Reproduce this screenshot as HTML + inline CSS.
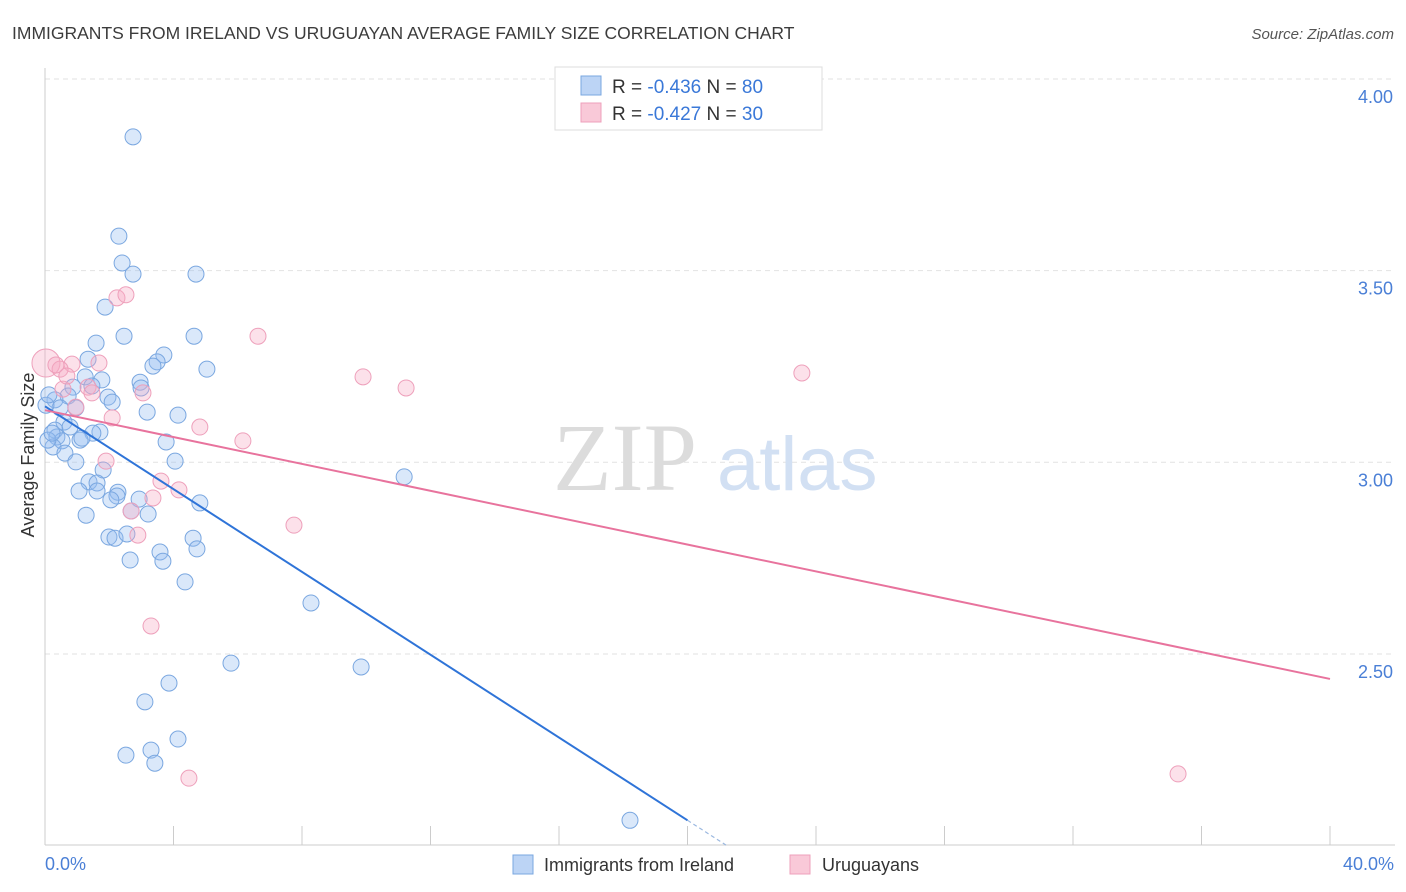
<!DOCTYPE html>
<html><head><meta charset="utf-8"><style>
body{margin:0;background:#fff;font-family:"Liberation Sans",sans-serif;}
svg{display:block}
</style></head><body>
<svg id="chart" width="1406" height="892" viewBox="0 0 1406 892">
<text x="12" y="39" font-size="17.5" fill="#3c3c3c">IMMIGRANTS FROM IRELAND VS URUGUAYAN AVERAGE FAMILY SIZE CORRELATION CHART</text>
<text x="1394" y="39" font-size="15" fill="#555" font-style="italic" text-anchor="end">Source: ZipAtlas.com</text>
<text transform="translate(34,455) rotate(-90)" font-size="18" fill="#333" text-anchor="middle">Average Family Size</text>
<g id="grid"></g>
<g>
<text x="553" y="490" font-family="Liberation Serif,serif" font-size="96" fill="#dcdcdc">ZIP</text>
<text x="717" y="490" font-size="76" fill="#d2e0f3">atlas</text>
</g>
<line x1="45" y1="68" x2="45" y2="845" stroke="#ccc"/>
<line x1="45" y1="845" x2="1395" y2="845" stroke="#ccc"/>
<g id="xticks"></g>
<g id="points"></g>
<g id="trends"></g>
<text x="45" y="870" font-size="18" fill="#4a7fd6">0.0%</text>
<text x="1394" y="870" font-size="18" fill="#4a7fd6" text-anchor="end">40.0%</text>
<g>
<rect x="555" y="67" width="267" height="63" fill="#fff" stroke="#ddd"/>
<rect x="581" y="76" width="20" height="19" fill="#bcd4f5" stroke="#7aa7e0"/>
<text x="612" y="93" font-size="19" fill="#333">R = <tspan fill="#3a78d8">-0.436</tspan>   N = <tspan fill="#3a78d8">80</tspan></text>
<rect x="581" y="103" width="20" height="19" fill="#f9c9d8" stroke="#eea0bb"/>
<text x="612" y="120" font-size="19" fill="#333">R = <tspan fill="#3a78d8">-0.427</tspan>   N = <tspan fill="#3a78d8">30</tspan></text>
</g>
<g>
<rect x="513" y="855" width="20" height="19" fill="#bcd4f5" stroke="#7aa7e0"/>
<text x="544" y="871" font-size="18" fill="#333">Immigrants from Ireland</text>
<rect x="790" y="855" width="20" height="19" fill="#f9c9d8" stroke="#eea0bb"/>
<text x="822" y="871" font-size="18" fill="#333">Uruguayans</text>
</g>
</svg>
<script>
const yTicks=[4.0,3.5,3.0,2.5];
const yTickLabels=["4.00","3.50","3.00","2.50"];
const xTickVals=[0,4,8,12,16,20,24,28,32,36,40];
const blueX=[2.74,2.30,2.40,2.74,4.70,1.87,2.46,4.64,1.59,3.70,1.34,3.49,3.36,5.04,1.25,1.77,2.96,0.87,1.46,2.99,0.72,1.96,2.09,0.31,0.47,0.96,3.18,4.14,0.59,0.31,0.78,1.71,1.49,0.37,1.09,1.15,0.53,3.77,0.25,0.62,0.96,4.05,1.81,11.18,1.37,1.62,1.06,2.27,1.62,2.24,2.93,2.05,4.82,3.21,2.68,1.28,1.99,2.18,2.55,4.61,4.73,3.58,3.67,2.65,4.36,8.28,5.79,9.84,3.86,3.11,4.14,3.30,2.52,3.42,18.21,0.09,0.22,0.03,0.12];
const blueY=[3.849,3.590,3.520,3.491,3.491,3.405,3.329,3.329,3.311,3.280,3.269,3.262,3.251,3.243,3.223,3.215,3.209,3.196,3.199,3.194,3.173,3.170,3.157,3.163,3.142,3.142,3.131,3.123,3.105,3.084,3.092,3.079,3.076,3.066,3.058,3.063,3.056,3.053,3.040,3.024,3.001,3.003,2.980,2.962,2.949,2.946,2.925,2.922,2.925,2.912,2.904,2.902,2.894,2.865,2.873,2.862,2.805,2.802,2.813,2.802,2.774,2.766,2.742,2.745,2.688,2.633,2.476,2.466,2.424,2.375,2.278,2.249,2.236,2.215,2.066,3.058,3.076,3.149,3.176];
const pinkX=[0.03,2.24,2.52,6.63,9.90,11.24,23.56,0.84,1.68,1.34,0.56,3.05,0.96,2.09,4.82,6.16,1.90,3.61,4.17,3.36,2.68,2.89,7.75,3.30,4.48,35.27,0.47,0.34,1.46,0.68];
const pinkY=[3.259,3.429,3.437,3.329,3.223,3.194,3.233,3.256,3.259,3.196,3.191,3.181,3.144,3.116,3.092,3.056,3.003,2.951,2.928,2.907,2.873,2.810,2.836,2.573,2.176,2.187,3.243,3.254,3.181,3.225];
const blueTrend=[3.146,-0.054];
const pinkTrend=[3.136,-0.01753];
const NS="http://www.w3.org/2000/svg";
function sx(v){return 45+v*32.125;}
function sy(v){return 79+(4-v)*383.3;}
function mk(tag,attrs,parent){const e=document.createElementNS(NS,tag);for(const k in attrs)e.setAttribute(k,attrs[k]);parent.appendChild(e);return e;}
const grid=document.getElementById('grid');
yTicks.forEach((t,i)=>{
 const l=mk('line',{x1:45,x2:1395,y1:sy(t),y2:sy(t),stroke:'#e2e2e2','stroke-dasharray':'5,4'},grid);
 
 
 const tx=mk('text',{x:1393,y:sy(t)+24,'font-size':18,fill:'#4a7fd6','text-anchor':'end'},grid);
 tx.textContent=yTickLabels[i];
 
 
});
const xt=document.getElementById('xticks');
xTickVals.forEach(v=>{
 const l=mk('line',{x1:sx(v),x2:sx(v),y1:826,y2:845,stroke:'#ccc'},xt);
 
 
});
const pts=document.getElementById('points');
blueX.forEach((x,i)=>{
 const c=mk('circle',{cx:sx(x),cy:sy(blueY[i]),r:8,fill:'rgba(150,188,240,0.35)',stroke:'#7aa7e0','stroke-width':1},pts);
 
 
});
pinkX.forEach((x,i)=>{
 const c=mk('circle',{cx:sx(x),cy:sy(pinkY[i]),r:i===0?14:8,fill:'rgba(245,170,195,0.35)',stroke:'#eea0bb','stroke-width':1},pts);
 
 
});
const tr=document.getElementById('trends');
const bEnd=20,bDash=21.2;
let l1=mk('line',{x1:sx(0),y1:sy(blueTrend[0]),x2:sx(bEnd),y2:sy(blueTrend[0]+blueTrend[1]*bEnd),stroke:'#2f74d8','stroke-width':2},tr);


let l2=mk('line',{x1:sx(bEnd),y1:sy(blueTrend[0]+blueTrend[1]*bEnd),x2:sx(bDash),y2:sy(blueTrend[0]+blueTrend[1]*bDash),stroke:'#9bb8e0','stroke-width':1.2,'stroke-dasharray':'4,3'},tr);


let l3=mk('line',{x1:sx(0),y1:sy(pinkTrend[0]),x2:sx(40),y2:sy(pinkTrend[0]+pinkTrend[1]*40),stroke:'#e8739d','stroke-width':2},tr);


</script>
</body></html>
